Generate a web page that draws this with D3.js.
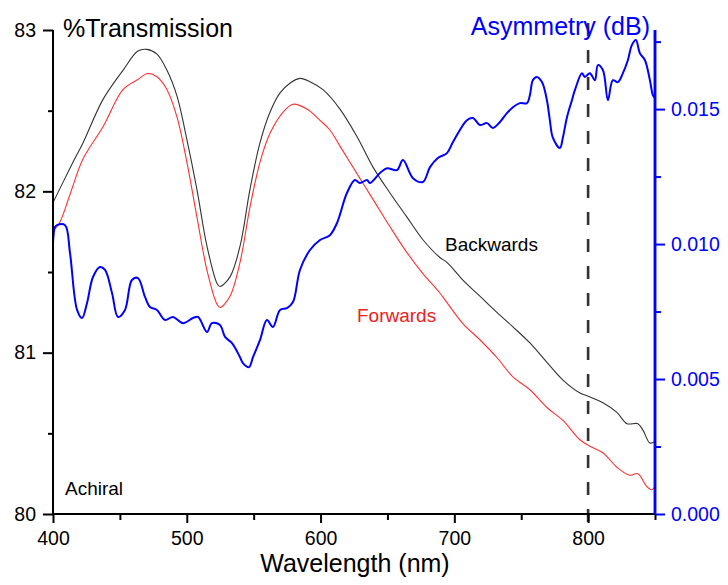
<!DOCTYPE html>
<html><head><meta charset="utf-8">
<script src="https://cdn.jsdelivr.net/npm/d3@7"></script>
<style>
html,body{margin:0;padding:0;background:#fff;}
svg{display:block;font-family:"Liberation Sans",Arial,sans-serif;}
</style></head>
<body>
<svg id="chart" width="728" height="585"></svg>
<script>
// Wavelength (nm) and values
const backwardsWl = [400,414.9,422.4,437.4,452.3,463.5,470.3,477.7,485.2,492.7,500.1,507.6,515.1,522.6,524.8,532.3,539.8,547.2,554.7,562.2,569.7,577.1,584.6,592.1,601.8,614.5,627.2,639.2,651.9,664.6,676.5,689.2,694.5,706.4,719.1,731.8,743.8,756.5,769.2,781.2,793.9,799.9,811.1,821.5,829.0,837.2,841.0,846.2,850];
const backwardsT = [81.93,82.18,82.30,82.57,82.75,82.87,82.88,82.85,82.75,82.59,82.32,82.01,81.66,81.43,81.41,81.47,81.66,82.01,82.30,82.49,82.61,82.67,82.70,82.68,82.63,82.51,82.34,82.15,81.99,81.84,81.70,81.59,81.56,81.45,81.35,81.25,81.16,81.06,80.94,80.83,80.75,80.73,80.69,80.63,80.56,80.56,80.52,80.44,80.45];

const forwardsWl = [400,401.5,405.2,412.7,422.4,437.4,452.3,462.8,471.0,477.7,485.2,492.7,500.1,507.6,515.1,522.6,524.8,532.3,539.8,547.2,554.7,562.2,571.9,579.4,589.8,599.6,607.0,614.5,627.2,639.2,651.9,664.6,676.5,689.2,694.5,706.4,719.1,731.8,743.8,756.5,769.2,781.2,793.9,801.3,811.1,821.5,831.2,837.2,843.9,847.7,850];
const forwardsT = [81.78,81.77,81.81,81.98,82.20,82.40,82.63,82.69,82.73,82.71,82.63,82.46,82.18,81.84,81.51,81.30,81.28,81.35,81.56,81.90,82.18,82.36,82.49,82.54,82.51,82.44,82.38,82.28,82.11,81.95,81.78,81.62,81.49,81.37,81.31,81.18,81.08,80.97,80.85,80.77,80.66,80.58,80.46,80.42,80.38,80.29,80.24,80.25,80.17,80.15,80.17];

const asymWl = [400,401.5,403,409,412.7,418,421.7,425.4,429.9,435.1,438.9,444.1,448.6,453.8,459.0,463.5,468.8,472.5,477.7,483.7,489.7,497.2,504.6,508.4,515.1,518.8,524.8,528.6,533.8,539.8,542.0,546.5,549.5,554.7,559.9,564.4,569.7,574.9,579.4,584.6,592.1,599.6,607.0,612.3,619.7,625.7,629.4,634.7,636.9,644.4,649.6,657.1,661.6,669.1,676.5,681.8,687.7,694.5,699.0,709.4,713.9,719.1,724.4,728.8,734.1,739.3,743.8,749.0,754.3,756.5,758.7,761.7,765.5,769.2,771.4,773.7,778.9,781.2,784.2,787.9,790.1,795.4,797.6,801.3,805.1,807.3,811.1,814.8,818.5,822.3,826.0,829.7,832.7,835.7,838.7,842.5,846.2,848.4,850];
const asymDb = [0.01004,0.01063,0.01070,0.01070,0.00967,0.00756,0.00726,0.00781,0.00878,0.00915,0.00904,0.00819,0.00730,0.00756,0.00867,0.00874,0.00804,0.00767,0.00756,0.00719,0.00730,0.00707,0.00726,0.00730,0.00674,0.00707,0.00700,0.00656,0.00633,0.00581,0.00559,0.00544,0.00581,0.00644,0.00719,0.00693,0.00756,0.00763,0.00785,0.00904,0.00978,0.01015,0.01033,0.01078,0.01189,0.01237,0.01226,0.01237,0.01226,0.01263,0.01281,0.01274,0.01311,0.01244,0.01230,0.01285,0.01319,0.01337,0.01378,0.01459,0.01467,0.01441,0.01448,0.01430,0.01452,0.01485,0.01507,0.01522,0.01522,0.01552,0.01607,0.01619,0.01600,0.01533,0.01459,0.01393,0.01356,0.01396,0.01470,0.01533,0.01570,0.01633,0.01619,0.01633,0.01607,0.01663,0.01644,0.01533,0.01607,0.01600,0.01633,0.01681,0.01737,0.01756,0.01707,0.01681,0.01607,0.01552,0.01541];

const xTicks = [400,500,600,700,800];
const xMinor = [450,550,650,750,850];
const leftTicks = [80,81,82,83];
const leftMinor = [80.5,81.5,82.5];
const rightTicks = [0,0.005,0.010,0.015];
const rightMinor = [0.0025,0.0075,0.0125,0.0175];
const markerWl = 800;

const svg = d3.select("#chart");
const L = 53, R = 655, T = 30, B = 514;
const x = d3.scaleLinear().domain([400,850]).range([L,R]);
const yL = d3.scaleLinear().domain([80,83]).range([B,T]);
const yR = d3.scaleLinear().domain([0,0.01793]).range([B,T]);
const FS = "19.5px";

// Dashed marker line (drawn from bottom upward)
svg.append("line")
  .attr("x1", x(markerWl)).attr("x2", x(markerWl))
  .attr("y1", 522).attr("y2", 20)
  .attr("stroke","#333").attr("stroke-width",2.6)
  .attr("stroke-dasharray","13,14");

const lineB = d3.line().x((d,i)=>x(backwardsWl[i])).y(d=>yL(d)).curve(d3.curveCatmullRom);
const lineF = d3.line().x((d,i)=>x(forwardsWl[i])).y(d=>yL(d)).curve(d3.curveCatmullRom);
const lineA = d3.line().x((d,i)=>x(asymWl[i])).y(d=>yR(d)).curve(d3.curveCatmullRom.alpha(0.5));

svg.append("path").attr("d", lineB(backwardsT)).attr("fill","none").attr("stroke","#333").attr("stroke-width",1.1);
svg.append("path").attr("d", lineF(forwardsT)).attr("fill","none").attr("stroke","#ff3030").attr("stroke-width",1.1);
svg.append("path").attr("d", lineA(asymDb)).attr("fill","none").attr("stroke","#0000ff").attr("stroke-width",2).attr("stroke-linejoin","round");

// Bottom axis
const gx = svg.append("g").attr("transform",`translate(0,${B})`);
gx.call(d3.axisBottom(x).tickValues(xTicks).tickSize(9).tickPadding(8).tickFormat(d3.format("d")));
gx.append("g").call(d3.axisBottom(x).tickValues(xMinor).tickSize(6).tickFormat(""));
gx.selectAll(".domain").attr("stroke","#000").attr("stroke-width",2).attr("d",`M${L},0H${R}`);
gx.selectAll(".tick line").attr("stroke","#000").attr("stroke-width",2);
gx.selectAll("text").attr("font-size",FS).attr("fill","#000").attr("font-family","Liberation Sans, Arial, sans-serif");

// Left axis
const gl = svg.append("g").attr("transform",`translate(${L},0)`);
gl.call(d3.axisLeft(yL).tickValues(leftTicks).tickSize(10).tickPadding(7).tickFormat(d3.format("d")));
gl.append("g").call(d3.axisLeft(yL).tickValues(leftMinor).tickSize(5).tickFormat(""));
gl.selectAll(".domain").attr("stroke","#000").attr("stroke-width",2).attr("d",`M0,${T}V${B}`);
gl.selectAll(".tick line").attr("stroke","#000").attr("stroke-width",2);
gl.selectAll("text").attr("font-size",FS).attr("fill","#000").attr("font-family","Liberation Sans, Arial, sans-serif");

// Right axis
const gr = svg.append("g").attr("transform",`translate(${R},0)`);
gr.call(d3.axisRight(yR).tickValues(rightTicks).tickSize(10).tickPadding(6).tickFormat(d3.format(".3f")));
gr.append("g").call(d3.axisRight(yR).tickValues(rightMinor).tickSize(6).tickFormat(""));
gr.selectAll(".domain").attr("stroke","#0000ff").attr("stroke-width",2.5).attr("d",`M0,${T}V${B}`);
gr.selectAll(".tick line").attr("stroke","#0000ff").attr("stroke-width",2);
gr.selectAll("text").attr("font-size",FS).attr("fill","#0000ff").attr("font-family","Liberation Sans, Arial, sans-serif");

// Titles and annotations
svg.append("text").attr("x",63).attr("y",37).attr("font-size","25px").attr("fill","#000").text("%Transmission");
svg.append("text").attr("x",650).attr("y",35).attr("text-anchor","end").attr("font-size","25px").attr("fill","#0000ff").text("Asymmetry (dB)");
svg.append("text").attr("x",355).attr("y",572).attr("text-anchor","middle").attr("font-size","25px").attr("fill","#000").text("Wavelength (nm)");
svg.append("text").attr("x",445).attr("y",251).attr("font-size","19px").attr("fill","#000").text("Backwards");
svg.append("text").attr("x",357).attr("y",322).attr("font-size","19px").attr("fill","#ee2020").text("Forwards");
svg.append("text").attr("x",65).attr("y",495).attr("font-size","19px").attr("fill","#000").text("Achiral");
</script>
</body></html>
